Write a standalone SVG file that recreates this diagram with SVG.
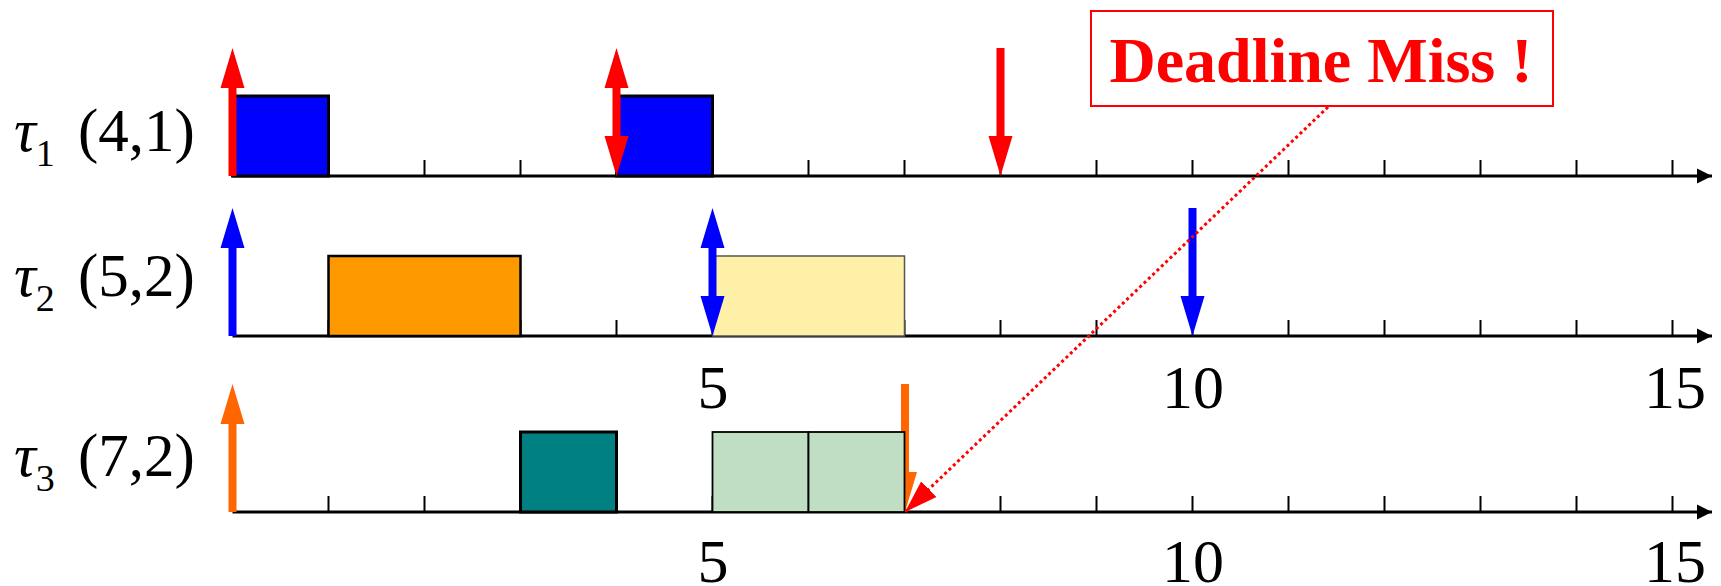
<svg xmlns="http://www.w3.org/2000/svg" width="1721" height="586" viewBox="0 0 1721 586">
<style>
  .axis { stroke: #000; stroke-width: 3; fill: none; }
  .tick { stroke: #000; stroke-width: 2; }
  .lbl { font-family: "Liberation Serif", "Times New Roman", serif; font-size: 61px; fill: #000; }
  .num { font-family: "Liberation Serif", "Times New Roman", serif; font-size: 62px; fill: #000; text-anchor: middle; }
  .miss { font-family: "Liberation Serif", "Times New Roman", serif; font-size: 64px; font-weight: bold; fill: #FF0000; text-anchor: middle; }
  .blk { stroke: #000; stroke-width: 3; }
</style>
<defs>
  <marker id="axhead" viewBox="0 0 16 16" refX="15" refY="8" markerUnits="userSpaceOnUse" markerWidth="16" markerHeight="16" orient="auto">
    <path d="M0,0.5 L15,8 L0,15.5 Z" fill="#000"/>
  </marker>
  <marker id="misshead" viewBox="0 0 34 24" refX="33" refY="12" markerUnits="userSpaceOnUse" markerWidth="34" markerHeight="24" orient="auto">
    <path d="M0,1 L33,12 L0,23 Z" fill="#FF0000"/>
  </marker>
  <path id="up" d="M-4,0 V-88 H-12 L0,-128 L12,-88 H4 V0 Z"/>
  <path id="down" d="M-4,-128 H4 V-40 H12 L0,0 L-12,-40 H-4 Z"/>
  <path id="both" d="M0,-128 L12,-88 H4 V-40 H12 L0,0 L-12,-40 H-4 V-88 H-12 Z"/>
  <g id="ticks">
    <path class="tick" d="M328.5,-16V0M424.5,-16V0M520.5,-16V0M616.5,-16V0M712.5,-16V0M808.5,-16V0M904.5,-16V0M1000.5,-16V0M1096.5,-16V0M1192.5,-16V0M1288.5,-16V0M1384.5,-16V0M1480.5,-16V0M1576.5,-16V0M1672.5,-16V0"/>
  </g>
</defs>

<g id="axes">
  <line class="axis" x1="232.5" y1="176" x2="1712" y2="176" marker-end="url(#axhead)"/>
  <use href="#ticks" y="176"/>
  <line class="axis" x1="232.5" y1="336" x2="1712" y2="336" marker-end="url(#axhead)"/>
  <use href="#ticks" y="336"/>
  <line class="axis" x1="232.5" y1="512" x2="1712" y2="512" marker-end="url(#axhead)"/>
  <use href="#ticks" y="512"/>
  <text class="num" x="713" y="408">5</text>
  <text class="num" x="1193" y="408">10</text>
  <text class="num" x="1675" y="408">15</text>
  <text class="num" x="713" y="582">5</text>
  <text class="num" x="1193" y="582">10</text>
  <text class="num" x="1675" y="582">15</text>
</g>

<g id="task1">
  <text class="lbl" x="14" y="151"><tspan font-style="italic">τ</tspan><tspan font-size="38" dy="15">1</tspan><tspan x="78" dy="-15">(4,1)</tspan></text>
  <rect class="blk" x="232.5" y="96" width="96" height="80" fill="#0000FF"/>
  <rect class="blk" x="616.5" y="96" width="96" height="80" fill="#0000FF"/>
  <g fill="#FF0000">
    <use href="#up" x="232.5" y="176"/>
    <use href="#both" x="616.5" y="176"/>
    <use href="#down" x="1000.5" y="176"/>
  </g>
</g>

<g id="task2">
  <text class="lbl" x="14" y="296"><tspan font-style="italic">τ</tspan><tspan font-size="38" dy="15">2</tspan><tspan x="78" dy="-15">(5,2)</tspan></text>
  <rect x="328.5" y="256" width="192" height="80" fill="#FF9900" stroke="#000" stroke-width="2.5"/>
  <rect x="712.5" y="256" width="192" height="80" fill="#FFF0A8" stroke="#555" stroke-width="1.5"/>
  <g fill="#0000FF">
    <use href="#up" x="232.5" y="336"/>
    <use href="#both" x="712.5" y="336"/>
    <use href="#down" x="1192.5" y="336"/>
  </g>
</g>

<g id="task3">
  <text class="lbl" x="14" y="476"><tspan font-style="italic">τ</tspan><tspan font-size="38" dy="15">3</tspan><tspan x="78" dy="-15">(7,2)</tspan></text>
  <g fill="#FF6600">
    <use href="#up" x="232.5" y="512"/>
    <use href="#down" x="905" y="512"/>
  </g>
  <rect class="blk" x="520.5" y="432" width="96" height="80" fill="#008080"/>
  <rect x="712.5" y="432" width="96" height="80" fill="#C0DEC4" stroke="#000" stroke-width="1.8"/>
  <rect x="808.5" y="432" width="96" height="80" fill="#C0DEC4" stroke="#000" stroke-width="1.8"/>
</g>

<g id="deadline-miss">
  <rect x="1091" y="11" width="462" height="95" fill="#FFFFFF" stroke="#FF0000" stroke-width="2"/>
  <text class="miss" x="1321" y="82">Deadline Miss !</text>
</g>

<g id="connectors">
  <line x1="1328" y1="107" x2="905" y2="512" stroke="#FF0000" stroke-width="3" stroke-dasharray="3 3" marker-end="url(#misshead)"/>
</g>
</svg>
